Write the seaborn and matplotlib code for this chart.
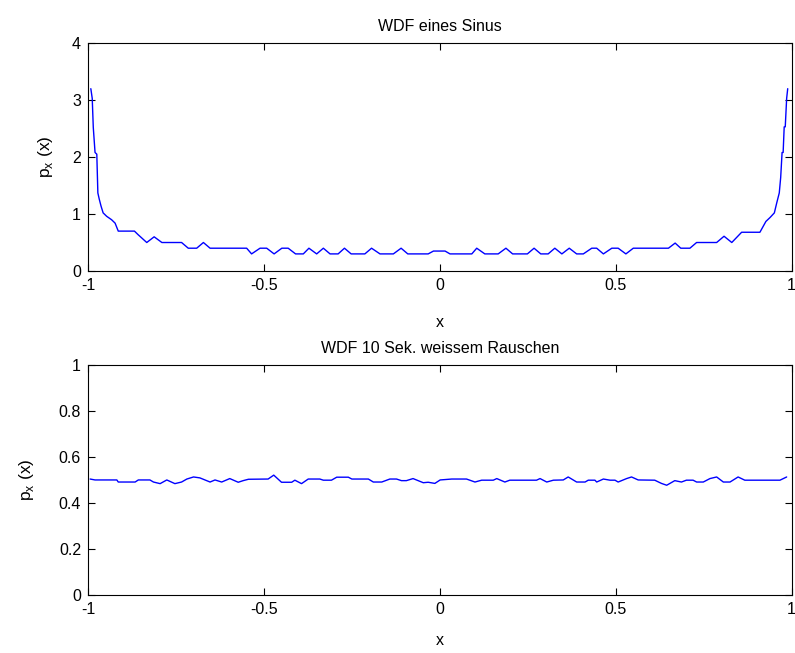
import matplotlib
matplotlib.use("Agg")
import matplotlib.pyplot as plt
import seaborn as sns
import pandas as pd

# WDF eines Sinus (Knickpunkte)
sin_x = [-0.992, -0.988, -0.985, -0.980, -0.975, -0.972, -0.968, -0.963, -0.957, -0.947,
         -0.933, -0.923, -0.914, -0.868, -0.858, -0.833, -0.812, -0.790, -0.734, -0.715,
         -0.691, -0.672, -0.653, -0.549, -0.535, -0.511, -0.492, -0.471, -0.449, -0.431,
         -0.410, -0.388, -0.372, -0.350, -0.331, -0.312, -0.289, -0.271, -0.252, -0.213,
         -0.194, -0.170, -0.132, -0.110, -0.091, -0.033, -0.018,
         0.015, 0.029, 0.091, 0.105, 0.128, 0.166, 0.188, 0.207, 0.249, 0.268, 0.287,
         0.308, 0.327, 0.347, 0.368, 0.389, 0.408, 0.432, 0.446, 0.465, 0.489, 0.507,
         0.529, 0.550, 0.650, 0.669, 0.685, 0.711, 0.730, 0.787, 0.808, 0.830, 0.858,
         0.910, 0.927, 0.939, 0.951, 0.958, 0.965, 0.969, 0.973, 0.976, 0.979, 0.982,
         0.986, 0.989]
sin_p = [3.20, 3.03, 2.52, 2.08, 2.05, 1.37, 1.26, 1.14, 1.02, 0.96,
         0.90, 0.84, 0.70, 0.70, 0.64, 0.50, 0.60, 0.50, 0.50, 0.40,
         0.40, 0.50, 0.40, 0.40, 0.30, 0.40, 0.40, 0.30, 0.40, 0.40,
         0.30, 0.30, 0.40, 0.30, 0.40, 0.30, 0.30, 0.40, 0.30, 0.30,
         0.40, 0.30, 0.30, 0.40, 0.30, 0.30, 0.35,
         0.35, 0.30, 0.30, 0.40, 0.30, 0.30, 0.40, 0.30, 0.30, 0.40, 0.30,
         0.30, 0.40, 0.30, 0.40, 0.30, 0.30, 0.40, 0.40, 0.30, 0.40, 0.40,
         0.30, 0.40, 0.40, 0.49, 0.40, 0.40, 0.50, 0.50, 0.61, 0.50, 0.68,
         0.68, 0.87, 0.94, 1.02, 1.20, 1.37, 1.64, 2.08, 2.08, 2.53, 2.53,
         3.03, 3.20]

# WDF 10 Sek. weissem Rauschen
noise_x = [-0.994, -0.980, -0.918, -0.914, -0.866, -0.857, -0.824, -0.814, -0.795, -0.776,
           -0.753, -0.734, -0.719, -0.700, -0.682, -0.653, -0.639, -0.620, -0.597, -0.573,
           -0.559, -0.544, -0.488, -0.472, -0.450, -0.421, -0.412, -0.393, -0.374, -0.341,
           -0.331, -0.308, -0.293, -0.260, -0.250, -0.203, -0.189, -0.165, -0.142, -0.123,
           -0.109, -0.095, -0.076, -0.047, -0.033, -0.014, 0.001,
           0.034, 0.076, 0.100, 0.119, 0.152, 0.162, 0.185, 0.199, 0.275, 0.285,
           0.304, 0.323, 0.351, 0.365, 0.389, 0.413, 0.422, 0.441, 0.446, 0.465,
           0.484, 0.498, 0.507, 0.531, 0.545, 0.564, 0.611, 0.630, 0.645, 0.668,
           0.687, 0.701, 0.720, 0.730, 0.749, 0.768, 0.787, 0.806, 0.825, 0.848,
           0.867, 0.967, 0.986]
noise_p = [0.504, 0.500, 0.500, 0.491, 0.491, 0.500, 0.500, 0.491, 0.484, 0.500,
           0.484, 0.491, 0.504, 0.513, 0.509, 0.491, 0.500, 0.491, 0.506, 0.490,
           0.497, 0.503, 0.504, 0.521, 0.490, 0.490, 0.499, 0.484, 0.504, 0.504,
           0.499, 0.499, 0.512, 0.512, 0.504, 0.504, 0.491, 0.491, 0.504, 0.504,
           0.497, 0.497, 0.506, 0.488, 0.490, 0.485, 0.500,
           0.504, 0.504, 0.491, 0.499, 0.499, 0.506, 0.491, 0.499, 0.499, 0.506,
           0.491, 0.499, 0.500, 0.513, 0.491, 0.491, 0.499, 0.499, 0.491, 0.504,
           0.499, 0.499, 0.491, 0.506, 0.513, 0.500, 0.499, 0.485, 0.477, 0.497,
           0.491, 0.499, 0.499, 0.491, 0.491, 0.506, 0.513, 0.491, 0.491, 0.513,
           0.499, 0.499, 0.513]

sns.set_style("ticks")
plt.rcParams["font.family"] = ["Liberation Sans", "DejaVu Sans"]
plt.rcParams["mathtext.fontset"] = "custom"
plt.rcParams["mathtext.rm"] = "Liberation Sans"
plt.rcParams["text.color"] = "black"
plt.rcParams["axes.labelcolor"] = "black"
fs = 11.5

fig = plt.figure(figsize=(7.95, 6.53), dpi=100)
ax1 = fig.add_axes([0.1107, 0.585, 0.885, 0.349])
ax2 = fig.add_axes([0.1107, 0.089, 0.885, 0.352])

df1 = pd.DataFrame({"x": sin_x, "p": sin_p})
df2 = pd.DataFrame({"x": noise_x, "p": noise_p})
sns.lineplot(data=df1, x="x", y="p", ax=ax1, color="#0000ff", linewidth=1.0)
sns.lineplot(data=df2, x="x", y="p", ax=ax2, color="#0000ff", linewidth=1.0)

ylab = r"p$_{\mathrm{x}}$ (x)"
for ax, title, ylim, yticks, ylabels, ypad, xpad in [
    (ax1, "WDF eines Sinus", (0, 4), [0, 1, 2, 3, 4], ["0", "1", "2", "3", "4"], 12, 16),
    (ax2, "WDF 10 Sek. weissem Rauschen", (0, 1), [0, 0.2, 0.4, 0.6, 0.8, 1],
     ["0", "0.2", "0.4", "0.6", "0.8", "1"], 16, 12),
]:
    ax.set_xlim(-1, 1)
    ax.set_ylim(*ylim)
    ax.set_xticks([-1, -0.5, 0, 0.5, 1])
    ax.set_xticklabels(["-1", "-0.5", "0", "0.5", "1"])
    ax.set_yticks(yticks)
    ax.set_yticklabels(ylabels)
    ax.tick_params(direction="in", top=True, right=True, length=5, width=0.8,
                   labelsize=fs, colors="black", pad=5)
    for s in ax.spines.values():
        s.set_visible(True)
        s.set_linewidth(0.8)
        s.set_color("black")
    ax.set_title(title, fontsize=fs, pad=9, color="black")
    ax.set_xlabel("x", fontsize=fs, labelpad=xpad)
    ax.set_ylabel(ylab, fontsize=fs + 1, labelpad=ypad)

fig.savefig("out.png", dpi=100)
